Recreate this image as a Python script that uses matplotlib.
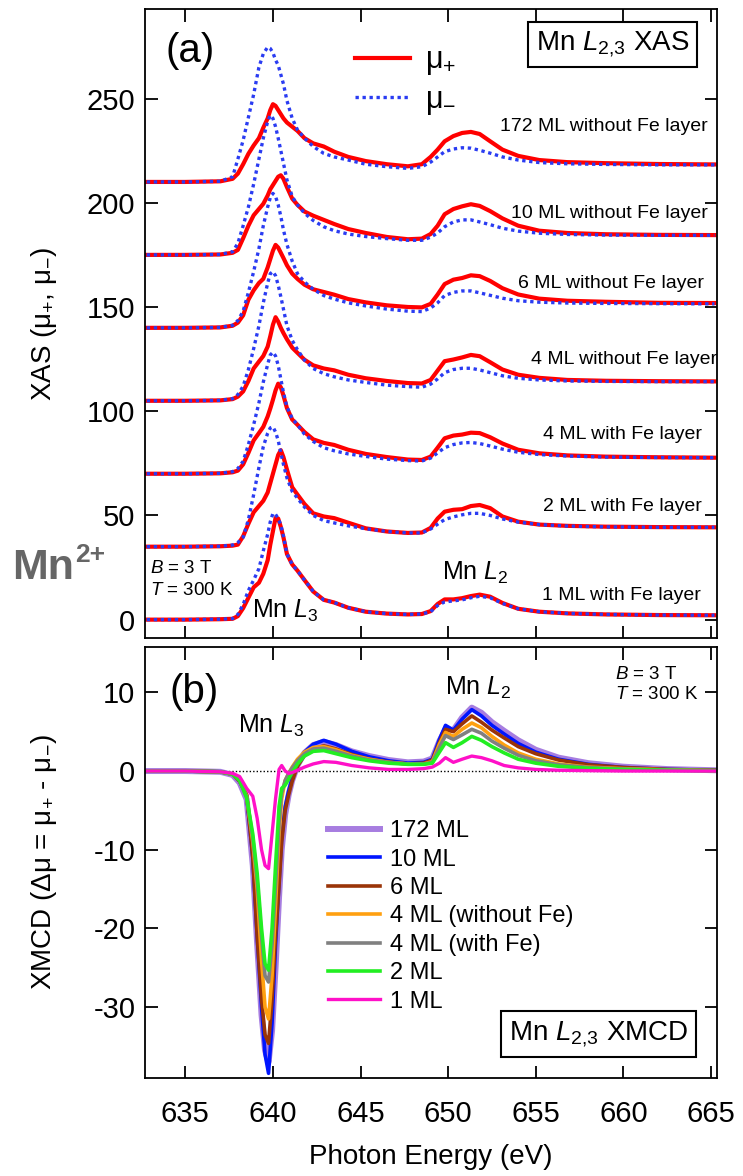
import matplotlib
matplotlib.use("Agg")
import matplotlib.pyplot as plt

plt.rcParams['font.family'] = ['Liberation Sans', 'DejaVu Sans']
plt.rcParams['mathtext.fontset'] = 'custom'
plt.rcParams['mathtext.rm'] = 'Liberation Sans'
plt.rcParams['mathtext.it'] = 'Liberation Sans:italic'
plt.rcParams['mathtext.bf'] = 'Liberation Sans:bold'
plt.rcParams['axes.unicode_minus'] = False

# ---------------- XAS spectra (mu+ / mu-), offset vertically ----------------
energy_xas = [632.8, 635.0, 637.0, 637.7, 638.0, 638.3, 638.6, 638.9, 639.2, 639.45,
              639.7, 639.85, 640.0, 640.15, 640.3, 640.45, 640.6, 640.8, 641.1, 641.4,
              641.8, 642.3, 642.9, 643.5, 644.3, 645.3, 646.5, 647.7, 648.5, 649.0,
              649.4, 649.8, 650.3, 650.8, 651.3, 651.8, 652.4, 653.1, 654.0, 655.2,
              656.8, 659.0, 662.0, 665.2]

xas_labels = ["172 ML without Fe layer", "10 ML without Fe layer", "6 ML without Fe layer",
              "4 ML without Fe layer", "4 ML with Fe layer", "2 ML with Fe layer",
              "1 ML with Fe layer"]

mu_plus_172ml = [210, 210, 210.3, 211.5, 214, 218.5, 223.5, 227.5, 231, 236,
                 240.5, 244.5, 247.3, 246.5, 244.5, 242.5, 240.5, 238.5, 236.5, 234.5,
                 231, 228.5, 227, 224.5, 222, 220, 218.5, 217.5, 218.5, 222,
                 225.5, 229.5, 232, 233.5, 234, 233, 229.5, 225.5, 222.5, 220.5,
                 219.5, 219, 218.6, 218.4]
mu_minus_172ml = [210, 210, 210.3, 212.5, 221, 230, 241, 252, 265, 271.5,
                  274.7, 274, 272, 268.5, 266, 261.5, 257, 249, 240.5, 235,
                  231, 227, 223.7, 222, 220.5, 218.5, 217.3, 216.5, 217.3, 219.5,
                  222, 224.5, 225.8, 226.4, 226.2, 225.2, 223.8, 222, 220.5, 219.3,
                  218.7, 218.4, 218.2, 218.2]

mu_plus_10ml = [175, 175, 175.2, 176, 177.4, 183, 189, 194, 197, 199.5,
                203.5, 206.5, 208.5, 210.5, 212.5, 213.2, 211.5, 207.5, 202, 199,
                195.8, 193.8, 191.8, 189.8, 187.4, 185.5, 183.6, 182.5, 182.8, 185,
                189, 194.5, 197, 198.3, 199.3, 198.5, 196, 192.5, 189, 186.6,
                185.5, 184.9, 184.6, 184.5]
mu_minus_10ml = [175, 175, 175.2, 176.5, 180.6, 189, 198, 209, 221, 231,
                 239, 242, 240.5, 236.5, 231, 225, 219, 211, 203, 199,
                 195, 191.5, 188.5, 186.6, 185, 183.8, 182.8, 182, 182, 183.5,
                 185.5, 188.5, 190.8, 191.8, 191.8, 190.8, 189.5, 187.8, 186.4, 185.4,
                 184.8, 184.5, 184.4, 184.4]

mu_plus_6ml = [140, 140, 140.2, 141, 142.5, 146, 153.5, 158, 161.5, 163.5,
               169, 173, 177, 179.8, 178.5, 176, 173.5, 170, 166, 163.5,
               160.7, 158.5, 157.2, 155.9, 153.8, 152.2, 150.8, 150, 149.8, 151.5,
               156, 161, 163.1, 163.9, 165.2, 164.8, 162.5, 159, 156, 154,
               153, 152.5, 152, 151.9]
mu_minus_6ml = [140, 140, 140.2, 141.2, 143.5, 148, 157, 167, 178, 189,
                198, 202.5, 204.5, 203, 199, 193.5, 187, 180, 172, 166,
                162, 158.5, 155.5, 153.8, 152, 150.5, 149, 148, 147.8, 149.5,
                152, 155.5, 157, 157.7, 157.7, 156.8, 155.6, 154.2, 153, 152.3,
                151.9, 151.7, 151.6, 151.5]

mu_plus_4ml_nofe = [105, 105, 105.2, 105.8, 107, 109.5, 114.5, 120.5, 123.8, 126.5,
                    131, 136, 141.5, 145.1, 143, 140, 137.5, 134.5, 130.5, 128,
                    124.7, 122, 120.5, 119.6, 117.5, 115.8, 114.5, 113.5, 113.3, 115,
                    119.5, 124, 124.8, 125.8, 127, 126.4, 123.5, 120, 117.5, 116,
                    115, 114.6, 114.4, 114.3]
mu_minus_4ml_nofe = [105, 105, 105.2, 106, 108, 112, 120, 130, 141, 152,
                     161.5, 166, 167, 165, 160.5, 155, 149, 141, 134, 129.5,
                     124.5, 120.5, 118, 116.5, 115, 113.8, 112.5, 111.8, 111.5, 113,
                     115.5, 118.5, 120, 120.6, 120.6, 119.8, 118.5, 117, 115.8, 115,
                     114.5, 114.3, 114.2, 114.2]

mu_plus_4ml_fe = [70, 70, 70.2, 70.7, 71.5, 74.5, 80, 86, 89.5, 92.5,
                  97.5, 101.3, 105.5, 110, 113.2, 111.5, 107.5, 101.5, 96, 93.5,
                  90, 86.5, 84.8, 83.8, 81.5, 79.5, 78, 76.8, 76.6, 78.2,
                  82.5, 87, 88.3, 88.8, 89.7, 89.5, 87.5, 84.5, 81.5, 79.8,
                  78.8, 78.2, 77.9, 77.7]
mu_minus_4ml_fe = [70, 70, 70.2, 71, 72.5, 76, 84, 93.5, 104, 114,
                   122.5, 127, 128.3, 126.5, 122, 115.5, 109, 102, 96.5, 93.5,
                   89, 85.5, 82.5, 81, 79.5, 78.3, 77, 76.3, 76.1, 77.5,
                   80, 82.5, 84, 84.8, 85, 84.5, 83.3, 81.8, 80.3, 79.2,
                   78.5, 78, 77.8, 77.7]

mu_plus_2ml = [35, 35, 35.2, 35.5, 36, 40, 46, 51.5, 54.5, 57,
               61, 65.5, 70, 74.5, 79, 81.3, 78, 72, 63.5, 60,
               55.5, 51, 49.5, 48.7, 46.5, 43.8, 42.3, 41.6, 41.8, 44,
               48.5, 51.8, 52.7, 53, 54.5, 55, 53.5, 49.5, 47, 45.6,
               45, 44.6, 44.4, 44.3]
mu_minus_2ml = [35, 35, 35.2, 35.8, 37, 39.5, 48, 60, 73, 83,
                89.5, 92, 92.5, 90, 86, 80, 74.5, 68, 61.5, 58.3,
                54, 50, 47.5, 46.4, 45, 43.6, 42.3, 41.6, 41.6, 43.5,
                45.8, 48, 49.3, 50.3, 51, 51, 50, 48.3, 46.8, 45.6,
                44.9, 44.5, 44.3, 44.3]

mu_plus_1ml = [0, 0, 0.2, 0.4, 1.7, 5.5, 10.5, 15.5, 17.7, 22,
               28.5, 36, 42.4, 48.8, 48.5, 44.5, 39.5, 31.5, 26.5, 23.5,
               19, 13.5, 9.5, 8.2, 5.7, 3.8, 2.9, 2.5, 2.7, 4.1,
               7.5, 9.7, 9.7, 10.3, 11.3, 12, 11, 8, 5.2, 3.8,
               3, 2.5, 2.2, 2.1]
mu_minus_1ml = [0, 0, 0.2, 0.5, 2.5, 7.3, 14, 19, 24.5, 33,
                41, 47, 51, 50.5, 48.5, 45.5, 40, 31.5, 26.5, 23.5,
                19, 13.5, 9.5, 8.2, 5.7, 3.8, 2.9, 2.5, 2.7, 3.8,
                6.8, 8.5, 9, 9.5, 10.5, 11.2, 10.5, 7.8, 5.2, 3.8,
                3, 2.5, 2.2, 2.1]

mu_plus_all = [mu_plus_172ml, mu_plus_10ml, mu_plus_6ml, mu_plus_4ml_nofe,
               mu_plus_4ml_fe, mu_plus_2ml, mu_plus_1ml]
mu_minus_all = [mu_minus_172ml, mu_minus_10ml, mu_minus_6ml, mu_minus_4ml_nofe,
                mu_minus_4ml_fe, mu_minus_2ml, mu_minus_1ml]

# ---------------- XMCD spectra ----------------
energy_xmcd = [632.8, 635.0, 637.0, 637.7, 638.1, 638.5, 638.85, 639.1, 639.35, 639.55,
               639.75, 639.95, 640.15, 640.35, 640.5, 640.7, 640.9, 641.1, 641.4, 641.8,
               642.3, 642.9, 643.6, 644.5, 645.5, 646.6, 647.7, 648.6, 649.1, 649.5,
               649.85, 650.3, 650.8, 651.35, 651.9, 652.5, 653.2, 654.0, 655.0, 656.3,
               658.0, 660.0, 662.5, 665.2]

xmcd_labels = ["172 ML", "10 ML", "6 ML", "4 ML (without Fe)", "4 ML (with Fe)", "2 ML", "1 ML"]

xmcd_172ml = [0, 0, -0.1, -0.5, -1.5, -3.6, -12, -22, -31, -35.5,
              -37, -33, -25, -16, -10, -5.5, -3, -1.2, 0.7, 2.3,
              3.3, 3.7, 3.3, 2.5, 1.9, 1.4, 1.1, 1.2, 1.6, 3.8,
              5.3, 5.2, 6.8, 8.05, 7.4, 6.2, 5.1, 3.9, 2.7, 1.7,
              1.0, 0.55, 0.25, 0.1]
xmcd_10ml = [0, 0, -0.1, -0.4, -1.3, -3.1, -11, -21, -30, -36,
             -38.4, -32, -22, -14, -8.5, -4.5, -2.5, -0.9, 0.9, 2.4,
             3.4, 3.9, 3.4, 2.5, 1.8, 1.3, 1.0, 1.1, 1.5, 4.0,
             5.8, 5.2, 6.6, 7.8, 7.0, 5.8, 4.7, 3.5, 2.4, 1.5,
             0.85, 0.45, 0.2, 0.1]
xmcd_6ml = [0, 0, -0.1, -0.4, -1.3, -3.0, -11, -21, -29, -33.5,
            -34.6, -29, -21, -14.5, -9, -5.0, -3, -1.3, 0.6, 2.0,
            2.8, 3.2, 2.8, 2.1, 1.5, 1.15, 0.9, 1.0, 1.4, 3.6,
            5.3, 5.0, 6.0, 7.0, 6.2, 5.2, 4.2, 3.1, 2.2, 1.4,
            0.8, 0.45, 0.2, 0.1]
xmcd_4ml_nofe = [0, 0, -0.1, -0.4, -1.2, -3.2, -9, -15, -24, -30,
                 -31.5, -26, -17, -8, -3.5, -1.2, -0.3, 0.5, 1.5, 2.4,
                 3.0, 3.1, 2.7, 2.0, 1.5, 1.1, 0.9, 0.9, 1.2, 3.4,
                 4.9, 4.4, 5.3, 6.1, 5.5, 4.4, 3.3, 2.3, 1.5, 0.9,
                 0.5, 0.3, 0.15, 0.05]
xmcd_4ml_fe = [0, 0, -0.1, -0.4, -1.2, -3.3, -8.5, -14, -21, -26,
               -26.8, -22, -14.5, -6.5, -2.8, -1.2, -0.3, 0.4, 1.3, 2.2,
               2.8, 2.9, 2.5, 1.9, 1.4, 1.1, 0.9, 0.9, 1.1, 3.0,
               4.5, 4.0, 4.6, 5.3, 4.8, 3.8, 2.9, 2.0, 1.3, 0.8,
               0.45, 0.25, 0.12, 0.05]
xmcd_2ml = [0, 0, -0.1, -0.4, -1.2, -3.4, -8, -13, -20, -24.5,
            -25.3, -20, -12, -4.5, -2.2, -1.8, -1.0, -0.2, 0.9, 1.9,
            2.5, 2.6, 2.2, 1.7, 1.3, 1.0, 0.85, 0.85, 1.0, 2.4,
            3.6, 3.0, 3.6, 4.4, 3.9, 3.1, 2.3, 1.5, 1.0, 0.6,
            0.35, 0.2, 0.1, 0.05]
xmcd_1ml = [0, 0, -0.1, -0.3, -0.7, -2.2, -3.2, -6, -10, -12,
            -12.4, -8, -3.5, 0.2, 0.7, 0.0, -0.3, -0.2, 0.1, 0.5,
            0.9, 1.2, 1.1, 0.7, 0.4, 0.2, 0.2, 0.3, 0.5, 1.0,
            1.7, 1.1, 1.5, 1.9, 1.7, 1.3, 0.7, 0.4, 0.2, 0.1,
            0.05, 0, 0, 0]

xmcd_all = [xmcd_172ml, xmcd_10ml, xmcd_6ml, xmcd_4ml_nofe, xmcd_4ml_fe, xmcd_2ml, xmcd_1ml]

xticks = [635, 640, 645, 650, 655, 660, 665]
yticks_xas = [0, 50, 100, 150, 200, 250]
yticks_xmcd = [10, 0, -10, -20, -30]

# ---------------- figure ----------------
fig = plt.figure(figsize=(7.43, 11.76), dpi=100)
ax1 = fig.add_axes([0.1952, 0.4575, 0.7699, 0.5349])
ax2 = fig.add_axes([0.1952, 0.0833, 0.7699, 0.3665])

RED = '#ff0000'
BLUE = '#2a3cf2'
TICK_FS = 21
LABEL_FS = 20
L23 = '$L_{2{,}3}$'

for ax in (ax1, ax2):
    ax.set_xlim(632.7, 665.35)
    ax.set_xticks(xticks)
    ax.tick_params(direction='in', top=True, right=True, length=9, width=1.3,
                   labelsize=TICK_FS, pad=7)
    for sp in ax.spines.values():
        sp.set_linewidth(1.3)

# top panel: XAS
line_plus = line_minus = None
for mp, mm in zip(mu_plus_all, mu_minus_all):
    line_plus, = ax1.plot(energy_xas, mp, color=RED, lw=3.0, solid_joinstyle='round')
    line_minus, = ax1.plot(energy_xas, mm, color=BLUE, lw=2.4, ls=(0, (1, 1.1)))

ax1.set_ylim(-8.8, 293)
ax1.set_yticks(yticks_xas)
ax1.tick_params(axis='x', labelbottom=False)
ax1.set_ylabel('XAS ($\\mathrm{μ}_{+}$, $\\mathrm{μ}_{-}$)', fontsize=LABEL_FS)
ax1.yaxis.set_label_coords(-0.15, 0.5)

label_x = [664.8, 664.8, 664.6, 665.35, 664.5, 664.5, 664.4]
label_y = [236.4, 195.0, 161.2, 124.7, 88.9, 54.3, 11.6]
for txt, lx, ly in zip(xas_labels, label_x, label_y):
    ax1.text(lx, ly, txt, ha='right', va='center', fontsize=14)

ax1.text(635.3, 273, '(a)', ha='center', va='center', fontsize=29)
ax1.text(659.4, 276, 'Mn ' + L23 + ' XAS', ha='center', va='center', fontsize=20,
         bbox=dict(boxstyle='square,pad=0.28', fc='white', ec='black', lw=1.5))
ax1.text(633.0, 24.5, '$B$ = 3 T', ha='left', va='center', fontsize=13.5)
ax1.text(633.0, 14.0, '$T$ = 300 K', ha='left', va='center', fontsize=13.5)
ax1.text(640.7, 4.0, 'Mn $L_{3}$', ha='center', va='center', fontsize=18)
ax1.text(651.55, 22.5, 'Mn $L_{2}$', ha='center', va='center', fontsize=18)

ax1.legend([line_plus, line_minus], ['$\\mathrm{μ}_{+}$', '$\\mathrm{μ}_{-}$'],
           loc='upper left', bbox_to_anchor=(0.367, 0.942), frameon=False,
           fontsize=22, handlelength=1.8, handletextpad=0.5, labelspacing=0.25,
           borderpad=0, borderaxespad=0)

fig.text(12 / 743, 1 - 568 / 1176, 'Mn', ha='left', va='center',
         fontsize=31, fontweight='bold', color='#666666')
fig.text(75 / 743, 1 - 555 / 1176, '2+', ha='left', va='center',
         fontsize=19, fontweight='bold', color='#666666')

# bottom panel: XMCD
xmcd_colors = ['#a77de0', '#0015ff', '#9a3408', '#ffa010', '#808080', '#22ee22', '#ff10c8']
xmcd_widths = [4.3, 2.6, 2.6, 2.6, 2.6, 2.6, 2.4]
ax2.axhline(0, color='black', lw=1.0, ls=(0, (1, 1.5)), zorder=1)
handles = []
for vals, col, lw in zip(xmcd_all, xmcd_colors, xmcd_widths):
    h, = ax2.plot(energy_xmcd, vals, color=col, lw=lw, zorder=2)
    handles.append(h)

ax2.set_ylim(-39.0, 15.75)
ax2.set_yticks(yticks_xmcd)
ax2.tick_params(axis='x', pad=16)
ax2.set_xlabel('Photon Energy (eV)', fontsize=LABEL_FS, labelpad=11)
ax2.set_ylabel('XMCD (Δμ = $\\mathrm{μ}_{+}$ - $\\mathrm{μ}_{-}$)', fontsize=LABEL_FS)
ax2.yaxis.set_label_coords(-0.15, 0.5)

ax2.text(635.5, 10.0, '(b)', ha='center', va='center', fontsize=29)
ax2.text(663.1, 12.3, '$B$ = 3 T', ha='right', va='center', fontsize=13.5)
ax2.text(664.3, 9.75, '$T$ = 300 K', ha='right', va='center', fontsize=13.5)
ax2.text(651.7, 10.6, 'Mn $L_{2}$', ha='center', va='center', fontsize=18)
ax2.text(639.9, 5.7, 'Mn $L_{3}$', ha='center', va='center', fontsize=18)
ax2.text(658.6, -33.4, 'Mn ' + L23 + ' XMCD', ha='center', va='center', fontsize=20,
         bbox=dict(boxstyle='square,pad=0.28', fc='white', ec='black', lw=1.5))

ax2.legend(handles, xmcd_labels, loc='upper left', bbox_to_anchor=(0.32, 0.598),
           frameon=False, fontsize=17, handlelength=2.2, handletextpad=0.42,
           labelspacing=0.27, borderpad=0, borderaxespad=0)

fig.savefig('out.png', dpi=100)
